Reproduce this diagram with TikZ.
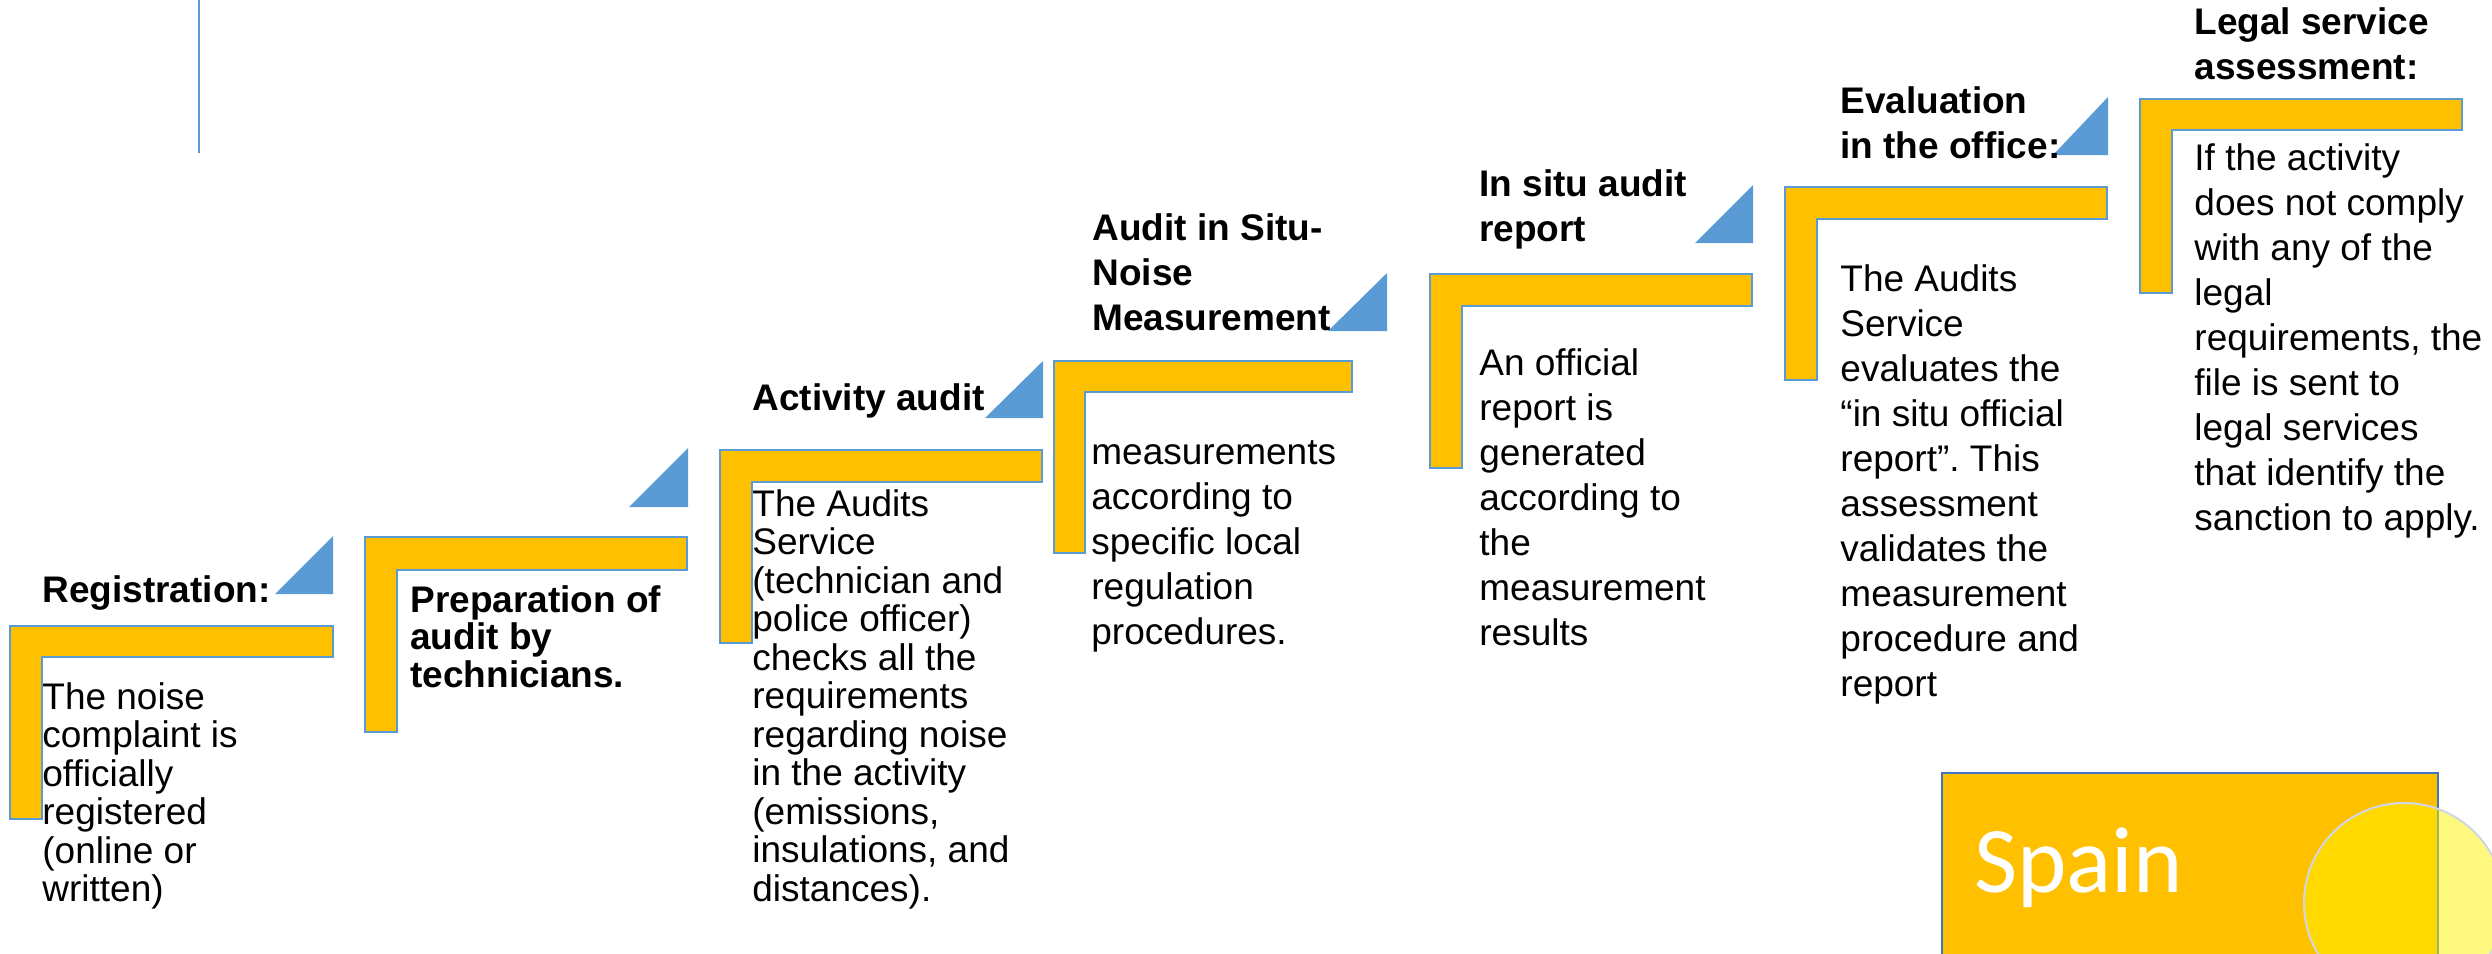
\documentclass[tikz,border=0pt]{standalone}
\usepackage{fontspec}
\setmainfont{Liberation Sans}
\newfontfamily\spainfont{Carlito}

\definecolor{stepgold}{HTML}{FFC000}
\definecolor{stepblue}{HTML}{5B9BD5}
\definecolor{boxblue}{HTML}{4472C4}
\definecolor{ringgray}{HTML}{D0D6E6}

\tikzset{
  stepbend/.style={fill=stepgold, draw=stepblue, line width=1pt},
  stepwedge/.style={fill=stepblue},
  head/.style={anchor=base west, inner sep=0pt, align=left, font=\fontsize{18.5}{22.5}\selectfont\bfseries},
  body/.style={anchor=base west, inner sep=0pt, align=left, font=\fontsize{18.5}{22.5}\selectfont},
}

\begin{document}
\begin{tikzpicture}[x=0.5pt, y=-0.5pt] %px, y down; text nodes sit on their last baseline
            \useasboundingbox (0,0) rectangle (2492,953);

            \draw[stepblue, line width=1pt] (199,0) -- (199,153);

            \filldraw[stepbend] (10,626) -- (333,626) -- (333,657) -- (42,657) -- (42,819) -- (10,819) -- cycle;
            \filldraw[stepbend] (365,537) -- (687,537) -- (687,570) -- (397,570) -- (397,732) -- (365,732) -- cycle;
            \filldraw[stepbend] (720,450) -- (1042,450) -- (1042,482) -- (752,482) -- (752,643) -- (720,643) -- cycle;
            \filldraw[stepbend] (1054,361) -- (1352,361) -- (1352,392) -- (1085,392) -- (1085,553) -- (1054,553) -- cycle;
            \filldraw[stepbend] (1430,274) -- (1752,274) -- (1752,306) -- (1462,306) -- (1462,468) -- (1430,468) -- cycle;
            \filldraw[stepbend] (1785,187) -- (2107,187) -- (2107,219) -- (1817,219) -- (1817,380) -- (1785,380) -- cycle;
            \filldraw[stepbend] (2140,99) -- (2462,99) -- (2462,130) -- (2172,130) -- (2172,293) -- (2140,293) -- cycle;

            \fill[stepwedge] (275,594) -- (333,594) -- (333,536) -- cycle;
            \fill[stepwedge] (629,507) -- (688,507) -- (688,448) -- cycle;
            \fill[stepwedge] (985,418) -- (1043,418) -- (1043,361) -- cycle;
            \fill[stepwedge] (1328,331) -- (1387,331) -- (1387,273) -- cycle;
            \fill[stepwedge] (1695,243) -- (1753,243) -- (1753,185) -- cycle;
            \fill[stepwedge] (2053,155) -- (2108,155) -- (2108,97) -- cycle;

            \node[head] (regHead) at (42,602) {Registration:};
            \node[body, font=\fontsize{18.5}{19.25}\selectfont] (regBody) at (42,901.5)
              {The noise\\complaint is\\officially\\registered\\(online or\\written)};

            \node[head, font=\fontsize{18.5}{18.85}\selectfont\bfseries] (prepHead) at (410,687.4)
              {Preparation of\\audit by\\technicians.};

            \node[head] (actHead) at (752,410) {Activity audit};
            \node[body, font=\fontsize{18.5}{19.25}\selectfont] (actBody) at (752,901)
              {The Audits\\Service\\(technician and\\police officer)\\checks all the\\requirements\\regarding noise\\in the activity\\(emissions,\\insulations, and\\distances).};

            \node[head] (situHead) at (1092,330) {Audit in Situ-\\Noise\\Measurement};
            \node[body] (situBody) at (1091,644)
              {measurements\\according to\\specific local\\regulation\\procedures.};

            \node[head] (reportHead) at (1479,241) {In situ audit\\report};
            \node[body] (reportBody) at (1479,645)
              {An official\\report is\\generated\\according to\\the\\measurement\\results};

            \node[head] (evalHead) at (1840,158) {Evaluation\\in the office:};
            \node[body] (evalBody) at (1840,696)
              {The Audits\\Service\\evaluates the\\“in situ official\\report”.\ This\\assessment\\validates the\\measurement\\procedure and\\report};

            \node[head] (legalHead) at (2194,79) {Legal service\\assessment:};
            \node[body] (legalBody) at (2194,530)
              {If the activity\\does not comply\\with any of the\\legal\\requirements, the\\file is sent to\\legal services\\that identify the\\sanction to apply.};

            \filldraw[fill=stepgold, draw=boxblue, line width=1pt] (1942,773) rectangle (2438,965);
            \node[anchor=base west, inner sep=0pt, text=white, font=\spainfont\fontsize{47}{56}\selectfont] (spain) at (1974,892) {Spain};
            \filldraw[fill=yellow, fill opacity=0.5, draw=ringgray, line width=1pt] (2404,903) circle (50pt);
        \end{tikzpicture}
\end{document}
